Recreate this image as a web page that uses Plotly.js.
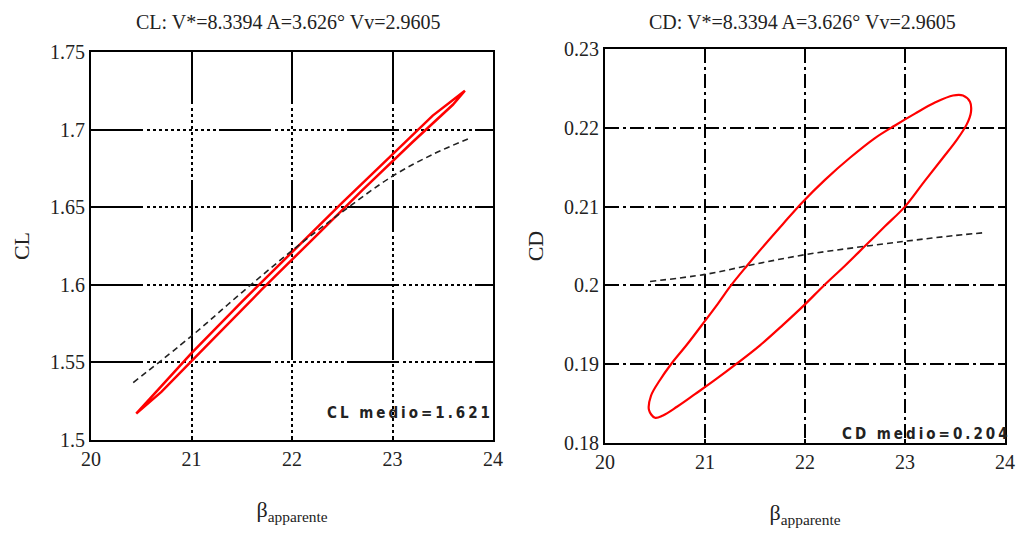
<!DOCTYPE html>
<html>
<head>
<meta charset="utf-8">
<script src="https://cdn.plot.ly/plotly-3.0.1.min.js"></script>
<style>
html,body{margin:0;padding:0;background:#fff;}
#chart{width:1018px;height:541px;}
g.annotation[data-index="0"] text, g.annotation[data-index="1"] text{letter-spacing:3px;}
</style>
</head>
<body>
<div id="chart"></div>
<script>
// Left panel: CL loop (closed path) and mean curve
const clLoopBeta = [20.45,20.7,21.0,21.5,22.0,22.5,23.0,23.4,23.72,23.6,23.2,22.7,22.2,21.7,21.2,20.7,20.45];
const clLoopVal  = [1.517,1.535,1.556,1.589,1.621,1.653,1.684,1.709,1.725,1.716,1.692,1.661,1.629,1.597,1.564,1.531,1.517];
const clMeanBeta = [20.42,21.0,21.5,22.0,22.5,23.0,23.4,23.75];
const clMeanVal  = [1.537,1.567,1.595,1.622,1.647,1.670,1.684,1.694];

// Right panel: CD loop (closed path) and mean curve
const cdLoopBeta = [20.50,20.44,20.46,20.55,20.66,20.82,21.00,21.13,21.26,21.42,21.60,21.78,21.97,22.20,22.45,22.70,22.90,23.10,23.30,23.48,23.58,23.65,23.66,23.62,23.52,23.38,23.20,23.00,22.80,22.60,22.40,22.19,22.00,21.78,21.55,21.31,21.10,20.90,20.72,20.58,20.50];
const cdLoopVal  = [0.1832,0.1842,0.1860,0.1880,0.1900,0.1925,0.1955,0.1977,0.2000,0.2025,0.2052,0.2078,0.2105,0.2134,0.2162,0.2187,0.2203,0.2218,0.2232,0.2241,0.2241,0.2233,0.2220,0.2205,0.2185,0.2162,0.2133,0.2100,0.2075,0.2050,0.2025,0.2000,0.1976,0.1950,0.1924,0.1900,0.1880,0.1862,0.1846,0.1835,0.1832];
const cdMeanBeta = [20.45,21.0,21.5,22.0,22.5,23.0,23.4,23.8];
const cdMeanVal  = [0.2005,0.2014,0.2027,0.2039,0.2048,0.2056,0.2062,0.2067];

const titleLeft  = "CL: V*=8.3394 A=3.626° Vv=2.9605";
const titleRight = "CD: V*=8.3394 A=3.626° Vv=2.9605";
const xTitle = "β<sub>apparente</sub>";
const noteLeft  = "CL medio=1.621";
const noteRight = "CD medio=0.204";

const xTicks = [20,21,22,23,24];
const clTicks = [1.5,1.55,1.6,1.65,1.7,1.75];
const clTickText = ["1.5","1.55","1.6","1.65","1.7","1.75"];
const cdTicks = [0.18,0.19,0.2,0.21,0.22,0.23];
const cdTickText = ["0.18","0.19","0.2","0.21","0.22","0.23"];

const serif = "Liberation Serif";
const red = "#ff0000";

const traces = [
  {x: clLoopBeta, y: clLoopVal, xaxis:'x', yaxis:'y', mode:'lines', line:{color:red, width:2.5}, hoverinfo:'skip'},
  {x: clMeanBeta, y: clMeanVal, xaxis:'x', yaxis:'y', mode:'lines', line:{color:'#222', width:1.6, dash:'6px,4px', shape:'spline'}, hoverinfo:'skip'},
  {x: cdLoopBeta, y: cdLoopVal, xaxis:'x2', yaxis:'y2', mode:'lines', line:{color:red, width:2.2, shape:'spline', smoothing:1}, hoverinfo:'skip'},
  {x: cdMeanBeta, y: cdMeanVal, xaxis:'x2', yaxis:'y2', mode:'lines', line:{color:'#222', width:1.6, dash:'6px,4px', shape:'spline'}, hoverinfo:'skip'}
];

const leftGridDash = "52px,4px,3px,3px,3px,3px,3px,3px,3px,3px,3px,3px,3px,3px,3px,3px,3px,3px,3px,3px,3px,3px,3px,3px,3px,3px";
const rightGridDash = "14px,4px,3px,4px";

function xaxisDef(domain, anchor, dash){
  return {
    domain: domain, anchor: anchor, range:[20,24], tickvals: xTicks, ticktext: xTicks.map(String),
    showgrid:true, gridcolor:'#000', gridwidth:2, griddash: dash,
    showline:true, linecolor:'#000', linewidth:2, mirror:'ticks',
    ticks:'inside', ticklen:4, tickcolor:'#000', tickwidth:2,
    zeroline:false, tickfont:{family:serif, size:20, color:'#222'},
    title:{text:xTitle, font:{family:serif, size:22, color:'#222'}, standoff:33}
  };
}
function yaxisDef(domain, anchor, range, tv, tt, dash, ttl){
  return {
    domain: domain, anchor: anchor, range: range, tickvals: tv, ticktext: tt,
    showgrid:true, gridcolor:'#000', gridwidth:2, griddash: dash,
    showline:true, linecolor:'#000', linewidth:2, mirror:'ticks',
    ticks:'inside', ticklen:4, tickcolor:'#000', tickwidth:2,
    zeroline:false, tickfont:{family:serif, size:20, color:'#222'},
    title:{text:ttl, font:{family:serif, size:22, color:'#222'}, standoff:14}
  };
}

const layout = {
  width:1018, height:541,
  margin:{l:0, r:0, t:0, b:0},
  paper_bgcolor:'#fff', plot_bgcolor:'#fff',
  showlegend:false,
  xaxis: xaxisDef([0.0894,0.4843], 'y', leftGridDash),
  yaxis: yaxisDef([0.1867,0.9039], 'x', [1.5,1.75], clTicks, clTickText, leftGridDash, "CL"),
  xaxis2: xaxisDef([0.5943,0.9872], 'y2', rightGridDash),
  yaxis2: yaxisDef([0.1811,0.9094], 'x2', [0.18,0.23], cdTicks, cdTickText, rightGridDash, "CD"),
  annotations: [
    {text: noteLeft, xref:'paper', yref:'paper', x:410/1018, y:1-413/541, xanchor:'center', yanchor:'middle', showarrow:false,
     font:{family:'DejaVu Sans Condensed', size:15, color:'#222', weight:'bold'}},
    {text: noteRight, xref:'paper', yref:'paper', x:926/1018, y:1-434/541, xanchor:'center', yanchor:'middle', showarrow:false,
     font:{family:'DejaVu Sans Condensed', size:15, color:'#222', weight:'bold'}},
    {text: titleLeft, xref:'paper', yref:'paper', x:288/1018, y:1-22/541, xanchor:'center', yanchor:'middle', showarrow:false,
     font:{family:serif, size:20, color:'#222'}},
    {text: titleRight, xref:'paper', yref:'paper', x:802/1018, y:1-22/541, xanchor:'center', yanchor:'middle', showarrow:false,
     font:{family:serif, size:20, color:'#222'}}
  ]
};

Plotly.newPlot('chart', traces, layout, {displayModeBar:false, staticPlot:true});
</script>
</body>
</html>
